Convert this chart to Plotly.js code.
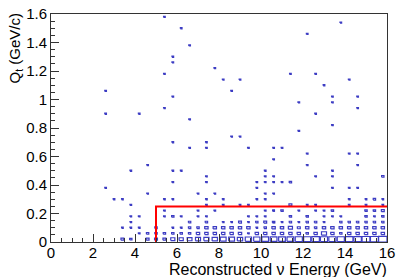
<!DOCTYPE html>
<html><head><meta charset="utf-8">
<script src="https://cdn.plot.ly/plotly-3.0.1.min.js"></script>
<style>html,body{margin:0;padding:0;background:#fff}</style>
</head><body><div id="chart" style="width:409px;height:277px"></div>
<script>
// Bin centres (GeV, GeV/c) and entries of the 2D histogram (0.4 GeV x 0.04 GeV/c bins)
const binE = [
 2.6,2.6,4.2,
 5.4,6.2,6.6,5.8,5.8,7.8,5.4,8.2,9.0,8.6,5.8,5.4,6.6,8.6,9.0,5.8,7.4,6.6,7.4,9.4,10.6,
 13.8,12.2,11.4,12.6,14.2,13.0,13.4,14.6,11.8,13.4,14.6,12.6,13.4,11.8,11.0,
 4.6,3.8,2.6,4.6,3.0,3.4,3.8,3.8,4.2,3.8,3.4,3.8,4.2,5.0,4.2,4.6,5.0,5.4,3.4,3.8,4.6,5.0,5.4,5.4,5.4,5.4,
 5.8,6.2,10.2,7.4,10.2,10.6,5.8,7.4,9.8,10.2,10.6,9.8,7.0,7.8,10.2,10.6,5.8,7.4,8.2,9.8,10.2,7.4,8.2,9.0,9.4,7.0,7.8,10.2,10.6,
 5.8,6.2,7.0,7.4,9.4,9.8,10.2,6.6,7.4,8.2,8.6,9.0,9.4,9.8,10.2,10.6,10.6,
 12.2,12.2,14.2,14.6,14.6,11.0,11.4,13.4,13.4,12.6,15.8,13.4,14.2,14.6,14.2,15.0,15.4,15.8,12.6,11.4,12.2,14.2,15.0,15.8,
 10.6,11.0,11.8,12.6,13.0,13.4,15.0,15.4,15.8,11.4,12.2,13.0,13.4,13.8,15.0,15.4,15.8,10.6,11.0,11.4,11.8,12.2,12.6,13.0,13.8,14.2,14.6,15.0,15.4,15.8,
 5.8,6.2,6.6,7.0,7.4,7.8,8.2,8.6,9.0,9.4,9.8,10.2,10.6,11.0,11.4,11.8,12.2,12.6,13.0,13.4,13.8,14.2,14.6,15.0,15.4,15.8,
 5.8,6.2,6.6,7.0,7.4,7.8,8.2,8.6,9.0,9.4,9.8,10.2,10.6,11.0,11.4,11.8,12.2,12.6,13.0,13.4,13.8,14.2,14.6,15.0,15.4,15.8,
 5.8,6.2,6.6,7.0,7.4,7.8,8.2,8.6,9.0,9.4,9.8,10.2,10.6,11.0,11.4,11.8,12.2,12.6,13.0,13.4,13.8,14.2,14.6,15.0,15.4,15.8
];
const binQt = [
 1.06,0.90,0.90,
 1.58,1.50,1.38,1.30,1.26,1.22,1.18,1.14,1.14,1.06,1.02,0.94,0.86,0.74,0.74,0.70,0.70,0.66,0.66,0.66,0.66,
 1.54,1.46,1.18,1.18,1.14,1.10,1.02,1.02,0.98,0.98,0.94,0.90,0.82,0.78,0.66,
 0.54,0.50,0.38,0.34,0.30,0.30,0.26,0.18,0.18,0.14,0.10,0.10,0.10,0.10,0.06,0.06,0.06,0.06,0.02,0.02,0.02,0.02,0.02,0.30,0.22,0.18,
 0.50,0.50,0.50,0.46,0.46,0.46,0.42,0.42,0.42,0.42,0.42,0.38,0.34,0.34,0.34,0.34,0.30,0.30,0.30,0.30,0.30,0.26,0.26,0.26,0.26,0.22,0.22,0.22,0.22,
 0.18,0.18,0.18,0.18,0.18,0.18,0.18,0.14,0.14,0.14,0.14,0.14,0.14,0.14,0.14,0.14,0.58,
 0.62,0.54,0.62,0.62,0.54,0.42,0.42,0.50,0.46,0.46,0.46,0.38,0.38,0.38,0.30,0.30,0.30,0.30,0.26,0.26,0.26,0.26,0.26,0.26,
 0.22,0.22,0.22,0.22,0.22,0.22,0.22,0.22,0.22,0.18,0.18,0.18,0.18,0.18,0.18,0.18,0.18,0.14,0.14,0.14,0.14,0.14,0.14,0.14,0.14,0.14,0.14,0.14,0.14,0.14,
 0.10,0.10,0.10,0.10,0.10,0.10,0.10,0.10,0.10,0.10,0.10,0.10,0.10,0.10,0.10,0.10,0.10,0.10,0.10,0.10,0.10,0.10,0.10,0.10,0.10,0.10,
 0.06,0.06,0.06,0.06,0.06,0.06,0.06,0.06,0.06,0.06,0.06,0.06,0.06,0.06,0.06,0.06,0.06,0.06,0.06,0.06,0.06,0.06,0.06,0.06,0.06,0.06,
 0.02,0.02,0.02,0.02,0.02,0.02,0.02,0.02,0.02,0.02,0.02,0.02,0.02,0.02,0.02,0.02,0.02,0.02,0.02,0.02,0.02,0.02,0.02,0.02,0.02,0.02
];
const binCount = [
 1,1,1,
 1,1,1,1,1,1,1,1,1,1,1,1,1,1,1,1,1,1,1,1,1,
 1,1,1,1,1,1,1,1,1,1,1,1,1,1,1,
 1,1,1,1,1,1,1,1,1,1,1,1,1,2,1,2,2,2,3,2,3,3,3,1,1,1,
 1,1,1,1,1,1,1,1,1,1,1,1,1,1,1,1,1,1,1,1,1,1,1,1,1,1,1,1,1,
 2,1,1,1,1,1,1,2,2,1,1,3,1,2,3,1,1,
 1,1,1,1,1,1,2,1,1,1,2,1,1,1,1,1,2,1,1,3,1,1,1,1,
 1,2,1,1,1,2,2,2,3,2,2,1,1,1,2,1,2,2,1,2,1,2,2,1,2,2,2,2,2,2,
 1,1,2,2,4,4,4,4,4,4,1,2,4,4,6,3,4,2,4,4,4,4,4,4,4,4,
 2,2,2,4,4,4,4,4,4,1,4,4,4,4,4,4,2,4,9,4,2,4,4,4,4,4,
 6,6,8,9,9,10,12,12,10,14,14,16,16,16,16,18,18,20,18,18,18,20,20,22,22,25
];
const cutE = [5, 5, 16];
const cutQt = [0, 0.25, 0.25];
const binWidthE = 0.4, binWidthQt = 0.04;

const maxCount = Math.max(...binCount);
const bx = [], by = [];
for (let i = 0; i < binE.length; i++) {
  const r = Math.sqrt(binCount[i] / maxCount);
  const hw = 0.5 * binWidthE * r, hh = 0.5 * binWidthQt * r;
  const x0 = binE[i] - hw, x1 = binE[i] + hw, y0 = binQt[i] - hh, y1 = binQt[i] + hh;
  bx.push(x0, x1, x1, x0, x0, null);
  by.push(y0, y0, y1, y1, y0, null);
}

const font = 'Liberation Sans, Arial, Helvetica, sans-serif';
const data = [
  {type:'scatter', mode:'lines', x:bx, y:by, connectgaps:false, hoverinfo:'skip',
   line:{color:'rgb(60,60,195)', width:1.2}, showlegend:false},
  {type:'scatter', mode:'lines', x:cutE, y:cutQt, line:{color:'rgb(255,0,0)', width:2},
   showlegend:false, hoverinfo:'skip'}
];
const layout = {
  width:409, height:277,
  margin:{l:51, r:22, t:14, b:35},
  paper_bgcolor:'#fff', plot_bgcolor:'#fff',
  font:{family:font, size:14, color:'#000'},
  xaxis:{range:[0,16], tickvals:[0,2,4,6,8,10,12,14,16], ticktext:['0','2','4','6','8','10','12','14','16'],
    ticks:'inside', ticklen:8, tickwidth:1, tickcolor:'#333',
    minor:{ticks:'inside', dtick:0.5, ticklen:4, tickcolor:'#333'},
    showline:true, mirror:true, linecolor:'#333', linewidth:1, showgrid:false, zeroline:false,
    tickfont:{size:15}, ticklabelstandoff:-3},
  yaxis:{range:[0,1.6], tickvals:[0,0.2,0.4,0.6,0.8,1,1.2,1.4,1.6], ticktext:['0','0.2','0.4','0.6','0.8','1','1.2','1.4','1.6'],
    ticks:'inside', ticklen:8, tickwidth:1, tickcolor:'#333',
    minor:{ticks:'inside', dtick:0.05, ticklen:4, tickcolor:'#333'},
    showline:true, mirror:true, linecolor:'#333', linewidth:1, showgrid:false, zeroline:false,
    tickfont:{size:15}},
  annotations:[
    {text:'Reconstructed ν Energy (GeV)', xref:'paper', yref:'paper', x:1.005, y:-0.075, xanchor:'right', yanchor:'top',
     showarrow:false, font:{size:16}},
    {text:'Q<sub>t</sub> (GeV/c)', xref:'paper', yref:'paper', x:-0.105, y:1.01, xanchor:'center', yanchor:'top',
     textangle:-90, showarrow:false, font:{size:15}}
  ]
};
Plotly.newPlot('chart', data, layout, {staticPlot:true});
</script></body></html>
